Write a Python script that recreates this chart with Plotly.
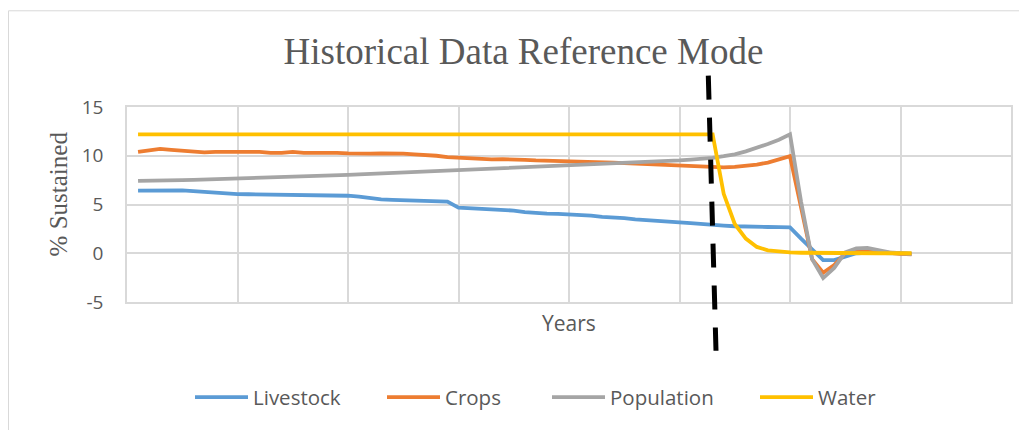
import plotly.graph_objects as go

# Category index (years, unlabeled in the reference)
years = list(range(1, 72))

livestock = [6.42, 6.45, 6.48, 6.48, 6.45, 6.38, 6.30, 6.15, 6.10, 6.07,
             6.05, 6.04, 6.03, 6.03, 6.02, 6.00, 5.98, 5.95, 5.92, 5.90,
             5.80, 5.65, 5.52, 5.47, 5.43, 5.40, 5.37, 5.35, 5.30, 4.68,
             4.62, 4.57, 4.52, 4.46, 4.38, 4.22, 4.12, 4.07, 4.03, 3.98,
             3.94, 3.85, 3.72, 3.68, 3.60, 3.48, 3.38, 3.30, 3.25, 3.17,
             3.08, 2.97, 2.88, 2.83, 2.77, 2.72, 2.70, 2.69, 2.68, 2.66,
             1.50, 0.40, -0.70, -0.70, -0.30, 0.00, 0.05, 0.05, 0.00, 0.00,
             -0.05]

crops = [10.40, 10.55, 10.70, 10.60, 10.50, 10.40, 10.35, 10.40, 10.42, 10.42,
         10.45, 10.40, 10.30, 10.30, 10.40, 10.30, 10.30, 10.32, 10.30, 10.25,
         10.20, 10.22, 10.25, 10.25, 10.22, 10.15, 10.10, 10.00, 9.85, 9.78,
         9.75, 9.70, 9.62, 9.65, 9.57, 9.58, 9.52, 9.50, 9.50, 9.48,
         9.42, 9.38, 9.33, 9.30, 9.25, 9.20, 9.15, 9.10, 9.05, 9.00,
         8.92, 8.85, 8.82, 8.80, 8.85, 8.95, 9.10, 9.30, 9.60, 9.95,
         4.70, -0.60, -2.00, -1.20, 0.00, 0.35, 0.40, 0.20, 0.05, -0.05,
         -0.10]

population = [7.42, 7.42, 7.44, 7.47, 7.50, 7.53, 7.56, 7.59, 7.62, 7.65,
              7.68, 7.71, 7.74, 7.77, 7.80, 7.84, 7.88, 7.93, 7.98, 8.03,
              8.08, 8.13, 8.18, 8.23, 8.28, 8.33, 8.38, 8.43, 8.48, 8.53,
              8.58, 8.62, 8.66, 8.70, 8.75, 8.79, 8.83, 8.88, 8.93, 8.98,
              9.02, 9.06, 9.10, 9.15, 9.20, 9.26, 9.32, 9.38, 9.45, 9.52,
              9.60, 9.68, 9.78, 9.95, 10.15, 10.45, 10.80, 11.20, 11.65, 12.20,
              5.30, -0.60, -2.55, -1.50, 0.10, 0.50, 0.55, 0.30, 0.10, 0.00,
              -0.10]

water = [12.2] * 53 + [6.10, 3.00, 1.50, 0.65, 0.30, 0.15, 0.08,
                       0.05, 0.03, 0.02, 0.01, 0.0, 0.0, 0.0, 0.0, 0.0, 0.0, 0.0,
                       0.0]

series_names = ["Livestock", "Crops", "Population", "Water"]
series_colors = ["#5B9BD5", "#ED7D31", "#A5A5A5", "#FFC000"]
series_values = [livestock, crops, population, water]
legend_widths = [124, 97, 140, 70]

y_ticks = [-5, 0, 5, 10, 15]
y_tick_text = ["-5", "0", "5", "10", "15"]

fig = go.Figure()
for name, color, vals, lw in zip(series_names, series_colors, series_values, legend_widths):
    fig.add_trace(go.Scatter(
        x=years, y=vals, mode="lines", name=name,
        line=dict(color=color, width=3.8),
        legendwidth=lw,
    ))

grid = "#D9D9D9"
txt = "#595959"

# page body has an 8px margin: the figure starts at (8, 8) in the window
W, H = 1019, 422
L, T = 119, 98.7
PW, PH = 884, 197

def px_x(x):
    return (x - 8 - L) / PW

def px_y(y):
    return 1 - (y - 8 - T) / PH

fig.update_layout(
    width=W, height=H,
    margin=dict(l=L, r=W - L - PW, t=T, b=H - T - PH),
    paper_bgcolor="white", plot_bgcolor="white",
    showlegend=True,
    legend=dict(
        orientation="h", x=px_x(190), xanchor="left", y=px_y(400), yanchor="middle",
        font=dict(family="Open Sans", size=20.5, color=txt),
        itemwidth=53,
    ),
    xaxis=dict(
        range=[0, 80], dtick=10, tick0=0, showticklabels=False,
        showgrid=True, gridcolor=grid, gridwidth=1.5,
        zeroline=False, showline=True, linecolor=grid, linewidth=1.5,
        mirror=True,
    ),
    yaxis=dict(
        range=[-5, 15], tickvals=y_ticks, ticktext=y_tick_text, showgrid=True,
        gridcolor=grid, gridwidth=1.5, zeroline=True, zerolinecolor=grid,
        zerolinewidth=1.5, showline=True, linecolor=grid, linewidth=1.5,
        mirror=True,
        tickfont=dict(family="Open Sans", size=19, color=txt),
        ticklabelstandoff=18,
    ),
    title=dict(
        text="Historical Data Reference Mode",
        font=dict(family="Liberation Serif", size=37, color=txt),
        x=(523.5 - 8) / W, xanchor="center", xref="container",
        y=1 - (51 - 8) / H, yanchor="middle", yref="container",
    ),
    annotations=[
        dict(text="% Sustained", textangle=-90, showarrow=False,
             xref="paper", yref="paper",
             x=px_x(58), y=px_y(195),
             xanchor="center", yanchor="middle",
             font=dict(family="Liberation Serif", size=25, color=txt)),
        dict(text="Years", showarrow=False, xref="paper", yref="paper",
             x=0.5, y=px_y(325), xanchor="center", yanchor="middle",
             font=dict(family="Open Sans", size=21, color=txt)),
    ],
    shapes=[
        dict(type="rect", xref="paper", yref="paper",
             x0=px_x(8.5), x1=px_x(1040),
             y0=px_y(440), y1=px_y(9.5),
             line=dict(color="#D9D9D9", width=1), fillcolor="rgba(0,0,0,0)",
             layer="below"),
        dict(type="line", xref="paper", yref="paper",
             x0=px_x(708.3), y0=px_y(75),
             x1=px_x(716), y1=px_y(353),
             line=dict(color="black", width=5, dash="24px,18px")),
    ],
)

fig.write_html("out.html")
